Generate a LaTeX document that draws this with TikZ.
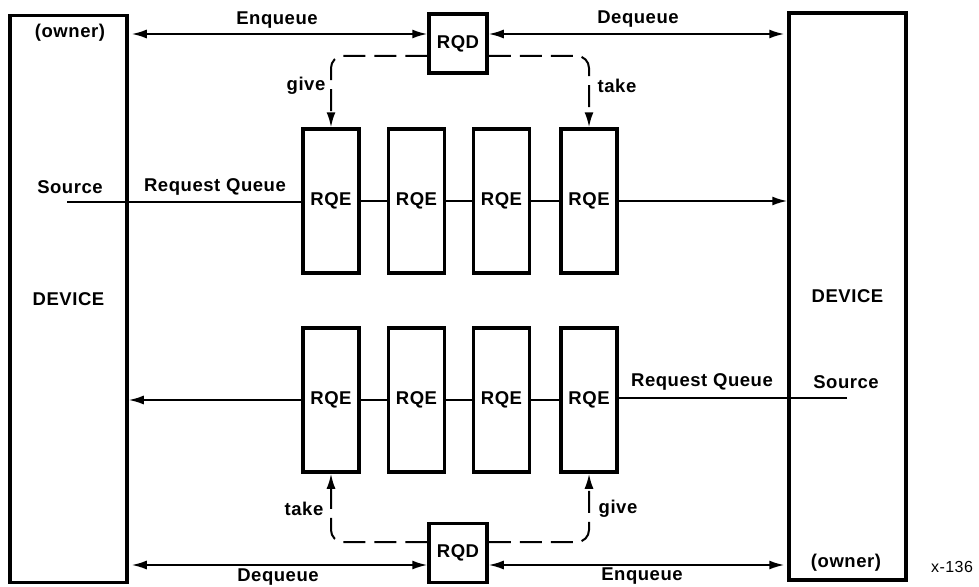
\documentclass[tikz,border=0pt]{standalone}
\usepackage{fontspec}
\setmainfont{Liberation Sans}[LetterSpace=3]
\usetikzlibrary{arrows.meta}
\begin{document}
\begin{tikzpicture}[x=1pt,y=-1pt,
  box/.style={draw,line width=3.5pt,inner sep=0pt,font=\fontsize{18.5}{18.5}\selectfont\bfseries},
  dev/.style={box,minimum width=117pt,minimum height=567pt},
  rqe/.style={box,minimum width=56pt,minimum height=144pt},
  rqd/.style={box,minimum width=58pt,minimum height=59pt},
  lbl/.style={font=\fontsize{18.5}{18.5}\selectfont\bfseries,inner sep=0pt},
  conn/.style={line width=1.8pt},
  tip/.style={-{Latex[length=15pt,width=9pt]}},
  dtip/.style={{Latex[length=15pt,width=9pt]}-{Latex[length=15pt,width=9pt]}},
  dashline/.style={line width=2pt,dash pattern=on 22pt off 9pt,rounded corners=12pt,-{Latex[length=15pt,width=9pt]}}
]
\useasboundingbox (0,0) rectangle (979,586);
% devices
\node[dev] (devL) at (68.5,299) {DEVICE};
\node[dev] (devR) at (847.5,296.5) {DEVICE};
% RQDs
\node[rqd] (rqdT) at (458,43.5) {RQD};
\node[rqd] (rqdB) at (458,553) {RQD};
% RQEs
\foreach \i/\x in {1/331,2/416.5,3/501.5,4/589}{
  \node[rqe] (t\i) at (\x,201) {RQE};
  \node[rqe] (b\i) at (\x,400) {RQE};
}
% top queue
\coordinate (srcL) at (67,202);
\draw[conn] (srcL) -- (srcL -| t1.west);
\draw[conn] (t1.east) -- (t2.west);
\draw[conn] (t2.east) -- (t3.west);
\draw[conn] (t3.east) -- (t4.west);
\draw[conn,tip] (t4.east) -- (t4.east -| devR.west);
% bottom queue
\coordinate (srcR) at (847,398);
\draw[conn] (srcR) -- (srcR -| b4.east);
\draw[conn] (b4.west) -- (b3.east);
\draw[conn] (b3.west) -- (b2.east);
\draw[conn] (b2.west) -- (b1.east);
\draw[conn,tip] (b1.west) -- (b1.west -| devL.east);
% enqueue / dequeue top
\draw[conn,dtip,shorten <=3pt] ([yshift=9.5pt]rqdT.west -| devL.east) -- ([yshift=9.5pt]rqdT.west);
\draw[conn,dtip,shorten >=3pt] ([yshift=9.5pt]rqdT.east) -- ([yshift=9.5pt]rqdT.east -| devR.west);
% enqueue / dequeue bottom
\draw[conn,dtip,shorten <=3pt] ([yshift=-12pt]rqdB.west -| devL.east) -- ([yshift=-12pt]rqdB.west);
\draw[conn,dtip,shorten >=3pt] ([yshift=-12pt]rqdB.east) -- ([yshift=-12pt]rqdB.east -| devR.west);
% dashed give/take
\draw[dashline] ([yshift=-12.5pt]rqdT.west) -| (t1.north);
\draw[dashline] ([yshift=-12.5pt]rqdT.east) -| (t4.north);
\draw[dashline] ([yshift=11pt]rqdB.west) -| (b1.south);
\draw[dashline] ([yshift=11pt]rqdB.east) -| (b4.south);
% labels
\node[lbl] (lEnqT) at (277,20) {Enqueue};
\node[lbl] (lDeqT) at (638,19) {Dequeue};
\node[lbl] (lOwnL) at (70,33) {(owner)};
\node[lbl] (lSrcL) at (70,187) {Source};
\node[lbl] (lRqL) at (215,187) {Request Queue};
\node[lbl] (lGiveT) at (306,86) {give};
\node[lbl] (lTakeT) at (617,86) {take};
\node[lbl] (lTakeB) at (304,509) {take};
\node[lbl] (lGiveB) at (618,509) {give};
\node[lbl] (lRqR) at (702,382) {Request Queue};
\node[lbl] (lSrcR) at (846,382) {Source};
\node[lbl] (lOwnR) at (846,563) {(owner)};
\node[lbl] (lDeqB) at (278,577) {Dequeue};
\node[lbl] (lEnqB) at (642,576) {Enqueue};
\node[inner sep=0pt,font=\fontsize{16}{16}\selectfont] (fig) at (952,567) {x-136};
\end{tikzpicture}
\end{document}
